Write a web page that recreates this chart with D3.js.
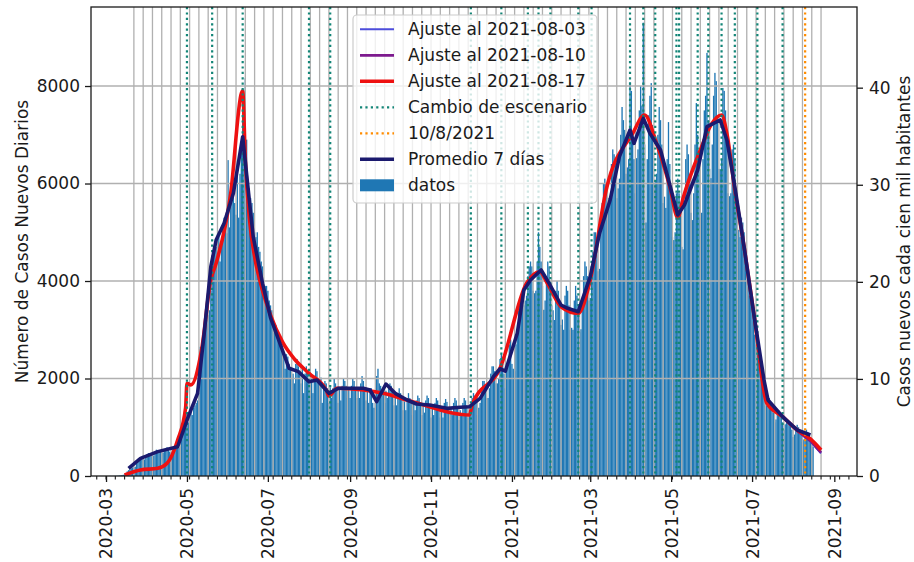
<!DOCTYPE html>
<html>
<head>
<meta charset="utf-8">
<script src="https://cdn.jsdelivr.net/npm/d3@7"></script>
<style>
  body { margin: 0; background: #fff; }
  svg { display: block; }
  text { font-family: "DejaVu Sans", sans-serif; fill: #1a1a1a; }
</style>
</head>
<body>
<svg id="chart" width="914" height="562"></svg>
<script>
// ---- data ----
const startDate = "2020-03-03";
// daily new cases, one row per week starting on startDate
const dailyCases = [
  1,2,1,1,2,3,4,
  6,10,12,20,25,35,50,
  95,120,140,160,175,180,190,
  250,330,340,370,400,420,340,
  380,450,470,460,430,400,420,
  450,540,520,500,530,480,480,
  520,560,590,550,500,480,510,
  500,520,560,620,580,600,750,
  900,1050,1200,1300,1100,1150,1350,
  1250,1400,1450,1500,1550,1700,2650,
  2400,2700,2900,3100,3200,3300,3400,
  3800,4300,4600,4800,4700,4700,4950,
  4400,4800,5100,5300,5200,4980,6480,
  5100,5600,6000,5900,5600,5360,6340,
  5300,6200,6800,7400,7000,8160,6900,
  6000,5900,5700,5600,5400,5000,4900,
  5000,4700,4600,4400,4300,3900,3900,
  3900,3800,3600,3500,3400,3200,3100,
  3100,3000,2900,2800,2700,2600,2500,
  2200,2500,2450,2300,2200,2000,2100,
  1900,2300,2400,2250,2100,1900,2200,
  1700,2100,2250,2100,2000,1700,2010,
  1700,2000,2200,2150,2000,1650,2020,
  1500,1850,1950,1900,1800,1500,1820,
  1600,1800,2000,1900,1750,1500,1770,
  1550,1850,2000,1950,1850,1600,1800,
  1600,1850,2000,1950,1800,1600,1800,
  1600,1900,2050,1950,1800,1550,1750,
  1500,1800,1800,1500,1400,1500,2050,
  2200,1900,1850,1700,1700,1500,1750,
  1600,1800,1900,1850,1750,1450,1690,
  1450,1700,1800,1700,1600,1350,1530,
  1350,1600,1700,1600,1500,1250,1500,
  1350,1550,1650,1600,1450,1250,1440,
  1300,1550,1650,1600,1450,1200,1470,
  1250,1500,1600,1550,1450,1200,1390,
  1200,1500,1580,1520,1400,1150,1380,
  1250,1500,1600,1550,1400,1150,1350,
  1250,1500,1600,1550,1450,1200,1355,
  1350,1600,1700,1650,1550,1250,1400,
  1500,1800,1950,1950,1850,1600,1600,
  1800,2100,2250,2250,2150,1900,1900,
  2000,2400,2500,2300,2100,1800,2300,
  2300,2700,2800,2300,2200,2150,2700,
  3000,3400,3600,3700,3700,3500,3600,
  3700,4100,4300,4400,4300,3800,3750,
  3800,4400,5000,4700,4400,3900,3410,
  3600,4100,4400,4300,4000,3500,3400,
  3200,3800,4000,3800,3600,3100,3210,
  3000,3700,3900,3800,3500,3000,3040,
  3000,3600,3900,3700,3500,2950,3010,
  3500,4100,4400,4300,4100,3600,3650,
  4000,4600,5000,5000,4800,4200,4250,
  5000,5600,6000,6100,6000,5500,5700,
  5600,6400,6700,6600,6500,5700,5900,
  6100,7000,7570,7300,7100,6200,6330,
  6500,8080,7900,7000,6500,5800,6520,
  6700,7500,8000,7600,9300,6800,5200,
  6500,7400,7800,8060,7200,6000,6040,
  6200,7000,7570,7300,6800,5600,5730,
  5500,6500,7260,6400,5900,4900,4840,
  5000,5800,6100,5800,5400,4700,4650,
  5600,6500,6800,6600,6200,5400,5250,
  5800,6800,7650,7000,6500,5300,5400,
  6500,7500,7800,8680,7300,6300,6110,
  6800,7800,8270,8100,7400,6300,6290,
  6500,7960,7900,7500,6900,5800,5740,
  5800,6700,6800,6500,5800,5000,5050,
  4900,5300,5200,5000,4500,4000,4000,
  3700,3700,3500,3200,2900,2700,2700,
  2400,2300,2100,1900,1700,1450,1450,
  1600,1600,1500,1400,1300,1100,1160,
  1300,1350,1300,1200,1100,950,1060,
  1100,1150,1100,1050,950,800,850,
  1000,1050,1000,950,850,700,750,
  900,950,900,850,750,650,600
];

// 7-day rolling average
const promedio7 = [
  ["2020-03-18",158],["2020-03-27",363],["2020-04-09",500],["2020-04-24",600],
  ["2020-05-02",1217],["2020-05-09",1696],["2020-05-14",2927],["2020-05-19",4294],
  ["2020-05-23",4841],["2020-05-29",5184],["2020-06-05",5799],["2020-06-12",6960],
  ["2020-06-17",5662],["2020-06-20",4900],["2020-06-27",3950],["2020-07-03",3250],
  ["2020-07-09",2800],["2020-07-17",2209],["2020-07-24",2140],["2020-08-01",1934],
  ["2020-08-07",1969],["2020-08-16",1696],["2020-08-23",1799],["2020-09-01",1799],
  ["2020-09-11",1799],["2020-09-16",1764],["2020-09-21",1524],["2020-09-28",1887],
  ["2020-10-05",1696],["2020-10-14",1559],["2020-10-21",1477],["2020-10-31",1456],
  ["2020-11-13",1388],["2020-11-23",1409],["2020-11-30",1422],["2020-12-08",1593],
  ["2020-12-18",2037],["2020-12-23",2200],["2020-12-27",2150],["2021-01-05",2927],
  ["2021-01-10",3815],["2021-01-15",4021],["2021-01-23",4226],["2021-01-29",3953],
  ["2021-02-07",3508],["2021-02-12",3440],["2021-02-20",3371],["2021-03-01",4089],
  ["2021-03-08",4978],["2021-03-16",5662],["2021-03-23",6550],["2021-03-31",7097],
  ["2021-04-03",6823],["2021-04-10",7337],["2021-04-15",7029],["2021-04-23",6687],
  ["2021-04-29",6071],["2021-05-06",5354],["2021-05-11",5559],["2021-05-21",6277],
  ["2021-05-28",7166],["2021-06-02",7234],["2021-06-07",7303],["2021-06-12",6892],
  ["2021-06-18",5935],["2021-06-25",4700],["2021-07-03",3200],["2021-07-10",1969],
  ["2021-07-13",1560],["2021-07-24",1217],["2021-08-04",944],["2021-08-14",841]
];

// model fits
const ajuste0817 = [
  ["2020-03-15",20],["2020-03-27",123],["2020-04-09",158],["2020-04-16",260],
  ["2020-04-24",738],["2020-04-30",1400],["2020-05-01",1901],["2020-05-04",1870],
  ["2020-05-12",2585],["2020-05-19",4021],["2020-05-23",4363],["2020-06-03",5799],
  ["2020-06-11",7850],["2020-06-12",7900],["2020-06-14",6500],["2020-06-17",5300],
  ["2020-06-21",4500],["2020-06-26",3900],["2020-07-03",3300],["2020-07-12",2750],
  ["2020-07-21",2400],["2020-08-01",2106],
  ["2020-08-14",1764],["2020-08-16",1641],["2020-08-22",1800],
  ["2020-09-11",1764],["2020-09-26",1696],["2020-10-18",1524],["2020-11-30",1251],
  ["2020-12-02",1456],["2020-12-23",2209],["2021-01-12",3953],["2021-01-22",4190],
  ["2021-01-27",3986],["2021-02-07",3473],["2021-02-20",3337],["2021-03-01",4021],
  ["2021-03-13",5867],["2021-04-02",7029],["2021-04-11",7405],["2021-04-20",6823],
  ["2021-04-30",5935],["2021-05-06",5300],["2021-05-10",5700],["2021-05-23",6687],
  ["2021-05-31",7200],["2021-06-08",7405],["2021-06-12",7029],["2021-06-18",5867],
  ["2021-06-25",4700],["2021-07-03",3200],["2021-07-12",1500],["2021-07-24",1217],
  ["2021-08-04",944],["2021-08-14",760],["2021-08-22",533]
];
const ajuste0810 = [
  ["2021-07-24",1210],["2021-08-04",930],["2021-08-14",720],["2021-08-22",480]
];
const ajuste0803 = [
  ["2021-07-24",1205],["2021-08-04",925],["2021-08-14",710],["2021-08-22",465]
];

const cambiosEscenario = [
  "2020-05-01","2020-05-20","2020-06-12","2020-08-01","2020-08-17","2020-12-01",
  "2020-12-24","2021-01-13","2021-01-21","2021-01-30","2021-02-20","2021-03-02",
  "2021-03-31","2021-04-10","2021-04-19","2021-05-05","2021-05-07","2021-05-21",
  "2021-05-29","2021-06-08","2021-06-18","2021-07-05","2021-07-24"
];
const fechaReferencia = "2021-08-10";

const leftTicks = [0, 2000, 4000, 6000, 8000];
const rightTicks = [0, 10, 20, 30, 40];
const dateTicks = ["2020-03","2020-05","2020-07","2020-09","2020-11",
                   "2021-01","2021-03","2021-05","2021-07","2021-09"];

const legendLabels = ["Ajuste al 2021-08-03","Ajuste al 2021-08-10","Ajuste al 2021-08-17",
                      "Cambio de escenario","10/8/2021","Promedio 7 días","datos"];

// ---- layout ----
const svg = d3.select("#chart");
const L = 91, R = 857, T = 7, B = 476;
const parse = d3.utcParse("%Y-%m-%d");
const parseMonth = d3.utcParse("%Y-%m");
const DAY = 864e5;
const t0 = Date.UTC(2020, 2, 1);

const x = d3.scaleUtc()
  .domain([new Date(t0 - 11.33 * DAY), new Date(t0 + 566.1 * DAY)])
  .range([L, R]);
const y = d3.scaleLinear().domain([0, 9621]).range([B, T]);
const y2 = d3.scaleLinear().domain([0, 48.31]).range([B, T]);
const pxDay = x(new Date(t0 + DAY)) - x(new Date(t0));

const colors = {
  bar: "#1f77b4", grid: "#b0b0b0", fit03: "#4d4ddb", fit10: "#7d1a8e",
  fit17: "#ee1111", cambio: "#138577", ref: "#ff8c00", prom: "#1b1a6e"
};

svg.append("defs").append("clipPath").attr("id", "plot")
  .append("rect").attr("x", L).attr("y", T).attr("width", R - L).attr("height", B - T);

const plot = svg.append("g").attr("clip-path", "url(#plot)");

// bars
const start = parse(startDate);
const bars = dailyCases.map((v, i) => ({ date: d3.utcDay.offset(start, i), v }));
plot.append("g").selectAll("rect").data(bars).join("rect")
  .attr("x", d => x(d.date) - 0.5 * pxDay)
  .attr("width", pxDay)
  .attr("y", d => y(d.v))
  .attr("height", d => y(0) - y(d.v))
  .attr("fill", colors.bar);

// grid: horizontal at y ticks, vertical every week
const grid = plot.append("g").attr("stroke", colors.grid).attr("stroke-width", 1.3);
grid.selectAll("line.h").data(leftTicks.slice(1)).join("line")
  .attr("x1", L).attr("x2", R).attr("y1", d => y(d)).attr("y2", d => y(d));
const weeks = d3.utcSunday.range(parse("2020-03-22"), parse("2021-08-23"));
grid.selectAll("line.v").data(weeks).join("line")
  .attr("x1", d => x(d)).attr("x2", d => x(d)).attr("y1", T).attr("y2", B);

// line generators
const line = d3.line().x(d => x(parse(d[0]))).y(d => y(d[1]));
const smooth = d3.line().x(d => x(parse(d[0]))).y(d => y(d[1])).curve(d3.curveMonotoneX);

plot.append("path").datum(ajuste0803).attr("d", line)
  .attr("fill", "none").attr("stroke", colors.fit03).attr("stroke-width", 2);
plot.append("path").datum(ajuste0810).attr("d", line)
  .attr("fill", "none").attr("stroke", colors.fit10).attr("stroke-width", 2.8);
plot.append("path").datum(ajuste0817).attr("d", smooth)
  .attr("fill", "none").attr("stroke", colors.fit17).attr("stroke-width", 3.6)
  .attr("stroke-linejoin", "round");

// scenario changes
plot.append("g").selectAll("line").data(cambiosEscenario).join("line")
  .attr("x1", d => x(parse(d))).attr("x2", d => x(parse(d)))
  .attr("y1", T).attr("y2", B)
  .attr("stroke", colors.cambio).attr("stroke-width", 2.2)
  .attr("stroke-dasharray", "2.2,3.2");
plot.append("line")
  .attr("x1", x(parse(fechaReferencia))).attr("x2", x(parse(fechaReferencia)))
  .attr("y1", T).attr("y2", B)
  .attr("stroke", colors.ref).attr("stroke-width", 2.2)
  .attr("stroke-dasharray", "2.2,3.2");

// 7-day average
plot.append("path").datum(promedio7).attr("d", line)
  .attr("fill", "none").attr("stroke", colors.prom).attr("stroke-width", 3.6)
  .attr("stroke-linejoin", "round");

// ---- axes ----
const axisColor = "#1a1a1a";
function styleAxis(g) {
  g.select(".domain").remove();
  g.selectAll(".tick line").attr("stroke", axisColor).attr("stroke-width", 1.3);
  g.selectAll(".tick text").style("font-size", "17px").attr("fill", "#1a1a1a");
}

svg.append("g").attr("transform", `translate(${L},0)`)
  .call(d3.axisLeft(y).tickValues(leftTicks).tickFormat(d3.format("d")).tickSize(6).tickPadding(5))
  .call(styleAxis);

svg.append("g").attr("transform", `translate(${R},0)`)
  .call(d3.axisRight(y2).tickValues(rightTicks).tickFormat(d3.format("d")).tickSize(6).tickPadding(6))
  .call(styleAxis);

// minor weekly ticks on the date axis
const minor = d3.utcSunday.range(x.domain()[0], x.domain()[1]);
svg.append("g").selectAll("line").data(minor).join("line")
  .attr("x1", d => x(d)).attr("x2", d => x(d)).attr("y1", B).attr("y2", B + 3.5)
  .attr("stroke", axisColor).attr("stroke-width", 1.1);

const xAxis = svg.append("g").attr("transform", `translate(0,${B})`)
  .call(d3.axisBottom(x).tickValues(dateTicks.map(parseMonth))
    .tickFormat(d3.utcFormat("%Y-%m")).tickSize(6).tickPadding(6))
  .call(styleAxis);
xAxis.selectAll(".tick text")
  .attr("text-anchor", "end")
  .attr("transform", "rotate(-90)")
  .attr("x", -12).attr("y", 0).attr("dy", "0.35em");

// frame
svg.append("rect").attr("x", L).attr("y", T).attr("width", R - L).attr("height", B - T)
  .attr("fill", "none").attr("stroke", axisColor).attr("stroke-width", 1.3);

// axis titles
svg.append("text").attr("transform", `translate(28,${(T + B) / 2}) rotate(-90)`)
  .attr("text-anchor", "middle").style("font-size", "17px")
  .text("Número de Casos Nuevos Diarios");
svg.append("text").attr("transform", `translate(910,${(T + B) / 2}) rotate(-90)`)
  .attr("text-anchor", "middle").style("font-size", "17px")
  .text("Casos nuevos cada cien mil habitantes");

// ---- legend ----
const legend = svg.append("g");
legend.append("rect").attr("x", 353).attr("y", 15).attr("width", 244).attr("height", 188)
  .attr("rx", 4).attr("fill", "#fff").attr("fill-opacity", 0.8)
  .attr("stroke", "#cccccc").attr("stroke-width", 1.2);
const handles = [
  { type: "line", color: colors.fit03, w: 2 },
  { type: "line", color: colors.fit10, w: 2.8 },
  { type: "line", color: colors.fit17, w: 3.6 },
  { type: "dot", color: colors.cambio, w: 2.2 },
  { type: "dot", color: colors.ref, w: 2.2 },
  { type: "line", color: colors.prom, w: 3.6 },
  { type: "patch", color: colors.bar }
];
legendLabels.forEach((lab, i) => {
  const cy = 29.3 + 26 * i;
  const h = handles[i];
  if (h.type === "patch") {
    legend.append("rect").attr("x", 360).attr("y", cy - 6).attr("width", 34).attr("height", 12)
      .attr("fill", h.color);
  } else {
    legend.append("line").attr("x1", 360).attr("x2", 394).attr("y1", cy).attr("y2", cy)
      .attr("stroke", h.color).attr("stroke-width", h.w)
      .attr("stroke-dasharray", h.type === "dot" ? "2.2,3.2" : null);
  }
  legend.append("text").attr("x", 408).attr("y", cy).attr("dy", "0.35em")
    .style("font-size", "17px").text(lab);
});
</script>
</body>
</html>
